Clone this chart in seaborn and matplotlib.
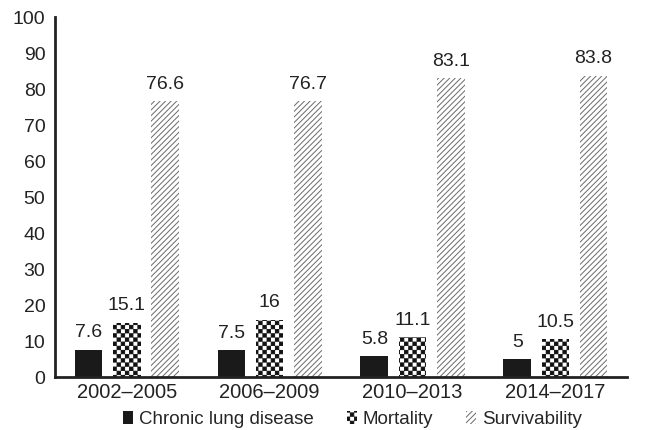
import numpy as np
import pandas as pd
import matplotlib.pyplot as plt
import matplotlib.hatch as mhatch
from matplotlib.path import Path
from matplotlib.patches import Patch
import seaborn as sns
import warnings

warnings.filterwarnings("ignore")

# --- DADOS ---
periodos = ["2002–2005", "2006–2009", "2010–2013", "2014–2017"]
series = ["Chronic lung disease", "Mortality", "Survivability"]
doenca_pulmonar = [7.6, 7.5, 5.8, 5.0]
mortalidade = [15.1, 16, 11.1, 10.5]
sobrevida = [76.6, 76.7, 83.1, 83.8]

df = pd.DataFrame({
    "Periodo": periodos * 3,
    "Serie": [series[0]] * 4 + [series[1]] * 4 + [series[2]] * 4,
    "Valor": doenca_pulmonar + mortalidade + sobrevida,
})


# hachura em xadrez (caractere 'c')
class Xadrez(mhatch.HatchPatternBase):
    def __init__(self, hatch, density):
        self.n = 24 if "c" in hatch else 0
        self.num_vertices = (self.n * self.n // 2) * 5

    def set_vertices_and_codes(self, vertices, codes):
        lado = 1.0 / self.n
        d = 0.004
        k = 0
        for i in range(self.n):
            for j in range(self.n):
                if (i + j) % 2:
                    continue
                x0, y0 = i * lado + d, j * lado + d
                x1, y1 = (i + 1) * lado - d, (j + 1) * lado - d
                vertices[k:k + 5] = [[x0, y0], [x1, y0], [x1, y1], [x0, y1], [x0, y0]]
                codes[k:k + 5] = [Path.MOVETO, Path.LINETO, Path.LINETO,
                                  Path.LINETO, Path.CLOSEPOLY]
                k += 5


mhatch._hatch_types.append(Xadrez)

sns.set_theme(style="white")
plt.rcParams["font.family"] = ["Liberation Sans", "DejaVu Sans"]
plt.rcParams["hatch.linewidth"] = 0.7

fig = plt.figure(figsize=(6.49, 4.30), dpi=100)
ax = fig.add_axes([0.085, 0.123, 0.881, 0.837])

sns.barplot(data=df, x="Periodo", y="Valor", hue="Serie", hue_order=series,
            width=0.8, gap=0.27, ax=ax, legend=False)

# estilos: preto, xadrez, listras cinza
estilos = [
    dict(facecolor="#1a1a1a", edgecolor="#1a1a1a", hatch=None),
    dict(facecolor="white", edgecolor="#111111", hatch="c"),
    dict(facecolor="white", edgecolor="#6a6a6a", hatch="//////"),
]
for cont, est in zip(ax.containers, estilos):
    for barra in cont:
        barra.set_facecolor(est["facecolor"])
        barra.set_edgecolor(est["edgecolor"])
        barra.set_linewidth(0)
        if est["hatch"]:
            barra.set_hatch(est["hatch"])
    rotulos = [("%g" % v) for v in cont.datavalues]
    ax.bar_label(cont, labels=rotulos, padding=6, fontsize=14, color="#222222")

ax.set_ylim(0, 100)
ax.set_xlim(-0.5, 3.5)
ax.set_yticks(range(0, 101, 10))
ax.set_xlabel("")
ax.set_ylabel("")
ax.tick_params(axis="y", labelsize=14, length=0, colors="#222222", pad=7)
ax.tick_params(axis="x", labelsize=14.5, length=0, colors="#222222", pad=4)
for lado in ["top", "right"]:
    ax.spines[lado].set_visible(False)
for lado in ["left", "bottom"]:
    ax.spines[lado].set_color("#222222")
    ax.spines[lado].set_linewidth(2)

alcas = [Patch(facecolor=e["facecolor"], edgecolor=e["edgecolor"], hatch=e["hatch"], linewidth=0)
         for e in estilos]
fig.legend(alcas, series, loc="lower center", bbox_to_anchor=(0.543, -0.034),
           ncol=3, frameon=False, fontsize=13.5, handlelength=0.55, handleheight=0.7,
           handletextpad=0.3, columnspacing=1.75)

fig.savefig("out.png", dpi=100)
